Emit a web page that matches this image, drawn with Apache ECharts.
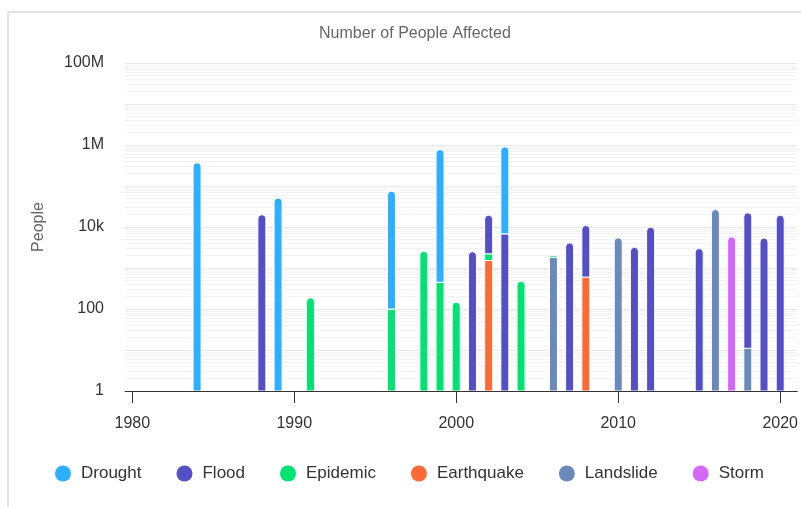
<!DOCTYPE html>
<html>
<head>
<meta charset="utf-8">
<script src="https://cdn.jsdelivr.net/npm/echarts@6/dist/echarts.min.js"></script>
<style>
  html, body { margin: 0; padding: 0; background: #fff; overflow: hidden; }
  #frame {
    position: absolute; left: 7px; top: 11px; width: 1000px; height: 1000px;
    border-left: 2px solid #e2e2e2; border-top: 2px solid #e2e2e2;
  }
  #chart { position: absolute; left: 0; top: 0; width: 801px; height: 507px; }
</style>
</head>
<body>
<div id="frame"></div>
<div id="chart"></div>
<script>
// years that have at least one event
const years = [1984, 1988, 1989, 1991, 1996, 1998, 1999, 2000, 2001, 2002, 2003, 2004,
  2006, 2007, 2008, 2010, 2011, 2012, 2015, 2016, 2017, 2018, 2019, 2020];

// people affected per disaster type, aligned with years (null = none)
const drought    = [370000, null, 51000, null, 74500, null, 776000, null, null, null, 897000, null,
  null, null, null, null, null, null, null, null, null, null, null, null];
const flood      = [null, 20000, null, null, null, null, null, null, 2500, 17200, 6800, null,
  null, 4100, 10300, null, 3200, 9900, 3000, null, null, 22200, 5400, 19400];
const epidemic   = [null, null, null, 188, 100, 2570, 450, 147, null, 700, null, 476,
  180, null, null, null, null, null, null, null, null, null, null, null];
const earthquake = [null, null, null, null, null, null, null, null, null, 1520, null, null,
  null, null, 600, null, null, null, null, null, null, null, null, null];
const landslide  = [null, null, null, null, null, null, null, null, null, null, null, null,
  1830, null, null, 5450, null, null, null, 26700, null, 11, null, null];
const storm      = [null, null, null, null, null, null, null, null, null, null, null, null,
  null, null, null, null, null, null, null, null, 5760, null, null, null];

const seriesNames = ['Drought', 'Flood', 'Epidemic', 'Earthquake', 'Landslide', 'Storm'];
const seriesValues = [drought, flood, epidemic, earthquake, landslide, storm];
const colors = ['#2caffe', '#544fc5', '#00e272', '#fe6a35', '#6b8abc', '#d568fb'];

const xTicks = [1980, 1990, 2000, 2010, 2020];
const yTickValues = [1, 100, 10000, 1000000, 100000000];
const yTickLabels = ['1', '100', '10k', '1M', '100M'];

// grid lines at 1..9 x 10^n
const yGridValues = [];
for (let e = 0; e < 8; e++) {
  for (let m = 1; m <= 9; m++) yGridValues.push(m * Math.pow(10, e));
}
yGridValues.push(100000000);

const font = '"Liberation Sans", Arial, Helvetica, sans-serif';

// stack bottom -> top is the reverse of the legend order
const stackOrder = [5, 4, 3, 2, 1, 0];

// build [year, start, end, isTop] rows per series; log axis so empty base starts at 1
const stacked = seriesValues.map(() => []);
years.forEach((y, i) => {
  let sum = 0;
  let top = -1;
  stackOrder.forEach(s => { if (seriesValues[s][i] != null) top = s; });
  stackOrder.forEach(s => {
    const v = seriesValues[s][i];
    if (v == null) return;
    stacked[s].push([y, sum > 0 ? sum : 1, sum + v, top === s ? 1 : 0]);
    sum += v;
  });
});

function renderBar(params, api) {
  const start = api.coord([api.value(0), api.value(1)]);
  const end = api.coord([api.value(0), api.value(2)]);
  const w = 8;
  const r = api.value(3) ? 4 : 0;
  return {
    type: 'rect',
    shape: { x: start[0] - w / 2, y: end[1], width: w, height: start[1] - end[1], r: [r, r, 0, 0] },
    style: api.style({ stroke: '#fff', lineWidth: 1 })
  };
}

const series = stackOrder.map(s => ({
  name: seriesNames[s],
  type: 'custom',
  renderItem: renderBar,
  clip: true,
  itemStyle: { color: colors[s] },
  emphasis: { disabled: true },
  encode: { x: 0, y: [1, 2] },
  data: stacked[s]
}));

const chart = echarts.init(document.getElementById('chart'), null, { renderer: 'canvas' });

chart.setOption({
  animation: false,
  backgroundColor: 'transparent',
  color: colors,
  tooltip: { show: false },
  title: {
    text: 'Number of People Affected',
    left: 319,
    top: 26,
    padding: 0,
    textStyle: { fontFamily: font, fontSize: 16, fontWeight: 'normal', color: '#666' }
  },
  legend: {
    data: seriesNames,
    left: 50,
    top: 460,
    icon: 'circle',
    itemWidth: 16,
    itemHeight: 16,
    itemGap: 35,
    textStyle: { fontFamily: font, fontSize: 17, color: '#333', padding: [0, 0, 0, 5] }
  },
  grid: { left: 125, right: 0, top: 63, bottom: 116, containLabel: false },
  xAxis: {
    type: 'value',
    min: 1979.55,
    max: 2021.05,
    splitLine: { show: false },
    axisLine: { lineStyle: { color: '#333', width: 1 } },
    axisTick: { customValues: xTicks, length: 12, lineStyle: { color: '#333' } },
    axisLabel: {
      customValues: xTicks,
      margin: 25,
      fontFamily: font, fontSize: 16, color: '#333',
      formatter: v => String(v)
    }
  },
  yAxis: {
    type: 'log',
    logBase: 10,
    min: 1,
    max: 100000000,
    name: 'People',
    nameLocation: 'middle',
    nameGap: 78,
    nameTextStyle: { fontFamily: font, fontSize: 16, color: '#666' },
    axisLine: { show: false },
    axisTick: { show: false, customValues: yGridValues },
    splitLine: {
      lineStyle: {
        color: ['#e6e6e6', '#f2f2f2', '#f2f2f2', '#f2f2f2', '#f2f2f2',
          '#f2f2f2', '#f2f2f2', '#f2f2f2', '#f2f2f2'],
        width: 1
      }
    },
    axisLabel: {
      customValues: yTickValues,
      margin: 21,
      padding: [0, 0, 6, 0],
      fontFamily: font, fontSize: 16, color: '#333',
      formatter: v => {
        const k = yTickValues.indexOf(v);
        return k >= 0 ? yTickLabels[k] : '';
      }
    }
  },
  series: series
});
</script>
</body>
</html>
